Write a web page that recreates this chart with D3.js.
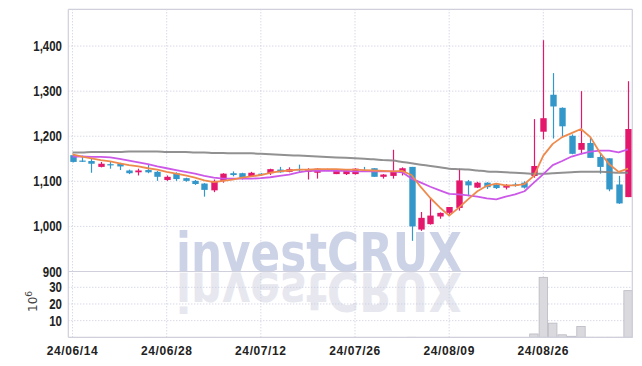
<!DOCTYPE html>
<html>
<head>
<meta charset="utf-8">
<script src="https://cdn.jsdelivr.net/npm/d3@7"></script>
<style>
body { margin: 0; background: #fff; }
</style>
</head>
<body>
<script>
// trading days (KRX, 2024)
var dates = ["2024-06-14","2024-06-17","2024-06-18","2024-06-19","2024-06-20","2024-06-21","2024-06-24","2024-06-25","2024-06-26","2024-06-27",
  "2024-06-28","2024-07-01","2024-07-02","2024-07-03","2024-07-04","2024-07-05","2024-07-08","2024-07-09","2024-07-10","2024-07-11",
  "2024-07-12","2024-07-15","2024-07-16","2024-07-17","2024-07-18","2024-07-19","2024-07-22","2024-07-23","2024-07-24","2024-07-25",
  "2024-07-26","2024-07-29","2024-07-30","2024-07-31","2024-08-01","2024-08-02","2024-08-05","2024-08-06","2024-08-07","2024-08-08",
  "2024-08-09","2024-08-12","2024-08-13","2024-08-14","2024-08-16","2024-08-19","2024-08-20","2024-08-21","2024-08-22","2024-08-23",
  "2024-08-26","2024-08-27","2024-08-28","2024-08-29","2024-08-30","2024-09-02","2024-09-03","2024-09-04","2024-09-05","2024-09-06"];

var opens  = [1158,1146,1145,1132,1138,1139,1124,1120,1125,1121, 1103,1118,1107,1101,1095,1080,1101,1118,1118,1111,
              1117,1118,1126,1121,1127,1121,1119,1125,1116,1116, 1116,1124,1129,1110,1112,1120,1132,993,1005,1022,
              1030,1041,1100,1086,1097,1093,1086,1093,1097,1112, 1210,1292,1263,1201,1170,1185,1154,1151,1093,1065];
var highs  = [1159,1157,1151,1143,1145,1141,1126,1128,1137,1123, 1113,1120,1108,1103,1096,1104,1118,1122,1119,1121,
              1118,1128,1132,1131,1137,1129,1129,1128,1124,1124, 1129,1132,1129,1116,1170,1131,1132,1032,1063,1031,
              1043,1128,1103,1099,1098,1094,1094,1097,1100,1238, 1413,1340,1264,1204,1300,1197,1163,1151,1112,1322];
var lows   = [1142,1143,1119,1131,1128,1125,1116,1113,1118,1101, 1101,1101,1099,1092,1066,1076,1097,1111,1104,1110,
              1112,1114,1119,1120,1120,1104,1106,1123,1116,1114, 1115,1121,1110,1106,1106,1113,968,990,1004,1017,
              1024,1035,1067,1085,1083,1083,1082,1088,1084,1108, 1193,1195,1199,1160,1160,1152,1117,1078,1050,1065];
var closes = [1143,1144,1139,1139,1136,1133,1118,1124,1120,1110, 1110,1105,1101,1094,1081,1101,1117,1114,1108,1119,
              1114,1127,1120,1127,1125,1125,1128,1127,1124,1124, 1128,1122,1110,1115,1121,1129,1000,1019,1024,1030,
              1043,1102,1091,1097,1087,1085,1091,1091,1086,1134, 1240,1266,1222,1161,1185,1152,1132,1082,1051,1216];

// volume, millions of shares
var volume = [0.2,0.1,0.2,0.1,0.1,0.1,0.1,0.1,0.2,0.1, 0.1,0.1,0.1,0.1,0.2,0.2,0.1,0.1,0.1,0.1,
              0.1,0.1,0.1,0.1,0.1,0.1,0.1,0.1,0.1,0.1, 0.1,0.1,0.1,0.1,0.2,0.1,0.3,0.2,0.2,0.1,
              0.2,0.2,0.1,0.1,0.1,0.1,0.1,0.1,0.1,2, 36,8.5,1.5,0.6,6.5,0.3,0.3,0.3,0.3,28];

// moving averages
var ma5   = [1160,1155,1151,1147,1144,1140,1136,1133,1129,1126, 1121,1117,1113,1108,1102,1098,1101,1104,1108,1111,
             1114,1119,1122,1124,1126,1126,1127,1127,1127,1126, 1126,1125,1124,1123,1122,1123,1114,1087,1063,1042,
             1024,1041,1060,1078,1090,1095,1091,1091,1094,1112, 1157,1183,1198,1207,1216,1198,1164,1138,1121,1128];
var ma20  = [1155,1155,1154,1154,1153,1150,1146,1142,1138,1133, 1129,1125,1121,1117,1112,1108,1106,1106,1106,1106,
             1107,1109,1112,1115,1120,1123,1123,1123,1123,1123, 1122,1122,1122,1122,1122,1120,1106,1097,1088,1080,
             1072,1071,1069,1066,1062,1060,1066,1071,1078,1097, 1116,1136,1145,1155,1161,1166,1168,1168,1164,1171];
var ma120 = [1164,1164,1165,1165,1165,1165,1166,1166,1166,1166, 1165,1165,1165,1164,1164,1163,1163,1162,1162,1162,
             1161,1160,1159,1158,1157,1156,1155,1154,1153,1152, 1151,1150,1149,1147,1146,1143,1140,1137,1134,1131,
             1128,1127,1126,1124,1122,1121,1120,1119,1118,1117, 1117,1118,1119,1120,1121,1121,1121,1120,1119,1119];

var priceTicks = [900, 1000, 1100, 1200, 1300, 1400];
var volTicks = [10, 20, 30];
var dateTicks = [0, 10, 20, 30, 40, 50];

var width = 642, height = 366;
var plotLeft = 68.3, plotRight = 632.3, plotTop = 9.3, plotMid = 271.5, plotBottom = 337.3;

var upColor = "#e3186d", downColor = "#3497c9";
var gridColor = "#c6c9dd";

var svg = d3.select("body").append("svg")
    .attr("width", width)
    .attr("height", height);

var x = d3.scaleLinear()
    .domain([-0.45, dates.length - 0.55])
    .range([plotLeft, plotRight]);

var y = d3.scaleLinear()
    .domain([900, 1481.5])
    .range([plotMid, plotTop]);

var yv = d3.scaleLinear()
    .domain([0, 39.5])
    .range([plotBottom, plotMid]);

var parse = d3.timeParse("%Y-%m-%d");
var fmt = d3.timeFormat("%y/%m/%d");

// watermark + reflection
var wm = svg.append("g");
wm.append("text")
    .attr("x", 176).attr("y", 271)
    .attr("textLength", 286)
    .attr("lengthAdjust", "spacingAndGlyphs")
    .style("font-family", "'DejaVu Sans Condensed', 'DejaVu Sans', sans-serif")
    .style("font-weight", "bold")
    .style("font-size", "53px")
    .style("fill", "#cdd3e7")
    .text("investCRUX");
wm.append("text")
    .attr("x", 176).attr("y", 271)
    .attr("textLength", 286)
    .attr("lengthAdjust", "spacingAndGlyphs")
    .attr("transform", "translate(0," + (2 * 272) + ") scale(1,-1)")
    .style("font-family", "'DejaVu Sans Condensed', 'DejaVu Sans', sans-serif")
    .style("font-weight", "bold")
    .style("font-size", "53px")
    .style("fill", "#e7e8ef")
    .text("investCRUX");

// grid
var grid = svg.append("g");
grid.selectAll(".hg")
    .data(priceTicks.filter(function(d) { return d > 900; }))
    .enter().append("line")
    .attr("x1", plotLeft).attr("x2", plotRight)
    .attr("y1", function(d) { return y(d); })
    .attr("y2", function(d) { return y(d); })
    .style("stroke", gridColor)
    .style("stroke-dasharray", "1,2");
grid.selectAll(".vg")
    .data(volTicks)
    .enter().append("line")
    .attr("x1", plotLeft).attr("x2", plotRight)
    .attr("y1", function(d) { return yv(d); })
    .attr("y2", function(d) { return yv(d); })
    .style("stroke", gridColor)
    .style("stroke-dasharray", "1,2");
grid.selectAll(".xg")
    .data(dateTicks)
    .enter().append("line")
    .attr("x1", function(d) { return x(d); })
    .attr("x2", function(d) { return x(d); })
    .attr("y1", plotTop).attr("y2", plotBottom)
    .style("stroke", gridColor)
    .style("stroke-dasharray", "1,2");

// volume bars
svg.append("g")
    .selectAll("rect")
    .data(volume)
    .enter().append("rect")
    .attr("x", function(d, i) { return x(i) - 4.2; })
    .attr("width", 8.4)
    .attr("y", function(d) { return yv(d); })
    .attr("height", function(d) { return plotBottom - yv(d); })
    .style("fill", "#dadade")
    .style("stroke", function(d) { return d >= 0.5 ? "#b9b9c2" : "none"; })
    .style("stroke-width", 0.8);

// candles
var candles = svg.append("g")
    .selectAll("g")
    .data(dates)
    .enter().append("g");

candles.append("line")
    .attr("x1", function(d, i) { return Math.round(x(i)) + 0.5; })
    .attr("x2", function(d, i) { return Math.round(x(i)) + 0.5; })
    .attr("y1", function(d, i) { return y(highs[i]); })
    .attr("y2", function(d, i) { return y(lows[i]); })
    .style("stroke", function(d, i) { return closes[i] > opens[i] ? upColor : downColor; })
    .style("stroke-width", 1.2);

candles.append("rect")
    .attr("x", function(d, i) { return Math.round(x(i)) + 0.5 - 3.2; })
    .attr("width", 6.4)
    .attr("y", function(d, i) { return y(Math.max(opens[i], closes[i])); })
    .attr("height", function(d, i) { return Math.max(1.2, Math.abs(y(opens[i]) - y(closes[i]))); })
    .style("fill", function(d, i) { return closes[i] > opens[i] ? upColor : downColor; });

// moving averages
var line = d3.line()
    .x(function(d, i) { return x(i); })
    .y(function(d) { return y(d); });

svg.append("path").datum(ma120).attr("d", line.curve(d3.curveMonotoneX))
    .style("fill", "none").style("stroke", "#858585").style("stroke-width", 2).style("opacity", 0.9);
line.curve(d3.curveLinear);
svg.append("path").datum(ma20).attr("d", line)
    .style("fill", "none").style("stroke", "#cc58e8").style("stroke-width", 1.8)
    .style("stroke-linejoin", "round");
svg.append("path").datum(ma5).attr("d", line)
    .style("fill", "none").style("stroke", "#ef8a4d").style("stroke-width", 1.8)
    .style("stroke-linejoin", "round");

// frame
var frame = svg.append("g").style("stroke", "#cfd0dc").style("stroke-width", 1.2);
frame.append("line").attr("x1", plotLeft).attr("x2", plotLeft).attr("y1", plotTop).attr("y2", plotBottom);
frame.append("line").attr("x1", plotRight).attr("x2", plotRight).attr("y1", plotTop).attr("y2", plotBottom);
frame.append("line").attr("x1", plotLeft).attr("x2", plotRight).attr("y1", plotTop).attr("y2", plotTop);
frame.append("line").attr("x1", plotLeft).attr("x2", plotRight).attr("y1", plotMid).attr("y2", plotMid);
frame.append("line").attr("x1", plotLeft).attr("x2", plotRight).attr("y1", plotBottom).attr("y2", plotBottom);

// axis labels (narrowed bold sans)
var labelFont = "'Liberation Sans', Arial, sans-serif";

svg.append("g")
    .selectAll("text")
    .data(priceTicks)
    .enter().append("text")
    .attr("transform", function(d) { return "translate(62," + y(d) + ") scale(0.82,1)"; })
    .attr("dy", "0.36em")
    .attr("text-anchor", "end")
    .style("font-family", labelFont)
    .style("font-weight", "bold")
    .style("font-size", "14px")
    .style("fill", "#222")
    .text(d3.format(","));

svg.append("g")
    .selectAll("text")
    .data(volTicks)
    .enter().append("text")
    .attr("transform", function(d) { return "translate(62," + yv(d) + ") scale(0.82,1)"; })
    .attr("dy", "0.36em")
    .attr("text-anchor", "end")
    .style("font-family", labelFont)
    .style("font-weight", "bold")
    .style("font-size", "14px")
    .style("fill", "#222")
    .text(function(d) { return d; });

svg.append("g")
    .selectAll("text")
    .data(dateTicks)
    .enter().append("text")
    .attr("x", function(d) { return x(d); })
    .attr("y", 354.5)
    .attr("text-anchor", "middle")
    .style("font-family", labelFont)
    .style("font-weight", "bold")
    .style("font-size", "12px")
    .style("letter-spacing", "0.6px")
    .style("fill", "#222")
    .text(function(d) { return fmt(parse(dates[d])); });

// volume unit
var unit = svg.append("text")
    .attr("transform", "translate(37,312) rotate(-90)")
    .style("font-family", "'DejaVu Sans', sans-serif")
    .style("font-size", "12px")
    .style("fill", "#444");
unit.append("tspan").text("10");
unit.append("tspan").attr("dy", "-5").style("font-size", "9px").text("6");
</script>
</body>
</html>
